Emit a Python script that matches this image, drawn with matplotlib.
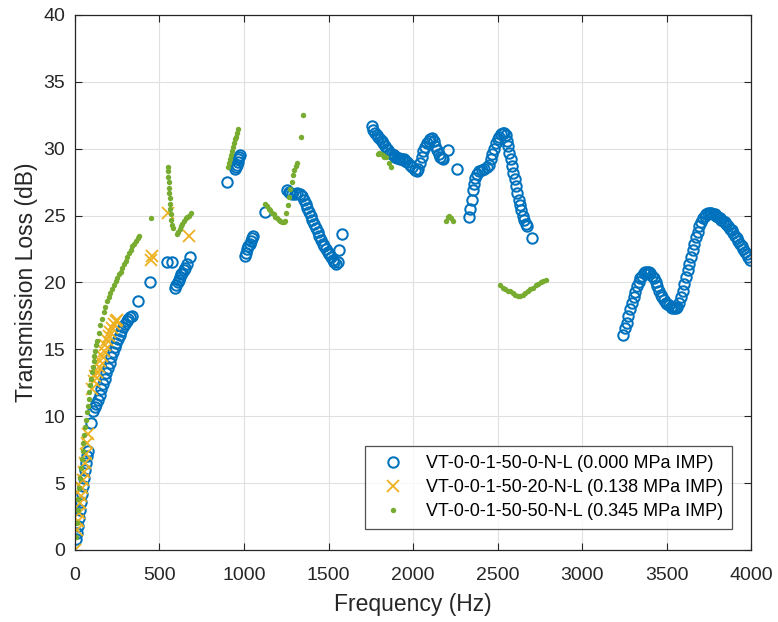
import matplotlib
matplotlib.use("Agg")
import matplotlib.pyplot as plt

# transmission loss per frequency, one set per impact pressure
# VT-0-0-1-50-0-N-L (0.000 MPa)
freq_0 = [6, 12, 18, 24, 30, 36, 42, 48, 54, 60, 66, 72, 78, 92,
          108, 116, 125, 135, 145, 155, 165, 175, 185, 195, 205, 215, 225,
          235, 245, 255, 265, 275, 285, 295, 305, 315, 325, 340, 375, 445,
          545, 572, 592, 600, 607, 614, 621, 628, 635, 643, 651, 660, 680,
          899, 947, 952, 957, 962, 967, 972, 977,
          1005, 1012, 1019, 1026, 1033, 1040, 1047, 1055,
          1124,
          1255, 1265, 1275, 1285, 1300, 1315, 1330, 1345, 1355, 1365, 1375,
          1385, 1395, 1405, 1415, 1425, 1435, 1445, 1455, 1465, 1475, 1485,
          1495, 1505, 1515, 1525, 1535, 1545, 1555, 1565, 1578,
          1757, 1765, 1775, 1785, 1795, 1805, 1815, 1825, 1835, 1845, 1855,
          1865, 1875, 1885, 1895, 1905, 1915, 1925, 1935, 1945, 1955, 1965,
          1980, 1995, 2010, 2022, 2032, 2042, 2052, 2062, 2072, 2082, 2092,
          2102, 2112, 2122, 2132, 2142, 2152, 2162, 2172, 2180, 2207, 2258,
          2333, 2340, 2347, 2354, 2361, 2368, 2378, 2392, 2406, 2420, 2435,
          2450, 2460, 2470, 2480, 2490, 2500, 2510, 2520, 2530, 2540, 2548,
          2555, 2562, 2570, 2578, 2586, 2594, 2602, 2610, 2618, 2626, 2634,
          2642, 2650, 2658, 2666, 2674, 2704,
          3243, 3255, 3265, 3275, 3285, 3295, 3305, 3315, 3325, 3335, 3345,
          3355, 3365, 3375, 3385, 3395, 3405, 3415, 3425, 3435, 3445, 3455,
          3465, 3475, 3485, 3495, 3505, 3515, 3525, 3535, 3545, 3555, 3565,
          3575, 3585, 3595, 3605, 3615, 3625, 3635, 3645, 3655, 3665, 3675,
          3685, 3695, 3705, 3715, 3725, 3735, 3745, 3755, 3765, 3775, 3785,
          3795, 3805, 3815, 3825, 3835, 3845, 3855, 3865, 3875, 3885, 3895,
          3905, 3915, 3925, 3935, 3945, 3955, 3965, 3975, 3985, 3995]
tl_0 = [0.8, 1.3, 1.8, 2.4, 3.0, 3.6, 4.2, 4.8, 5.4, 6.0, 6.5, 7.0, 7.4, 9.5,
        10.4, 10.7, 10.9, 11.2, 11.6, 12.0, 12.4, 12.8, 13.2, 13.6, 14.0,
        14.4, 14.8, 15.2, 15.5, 15.8, 16.1, 16.4, 16.7, 16.9, 17.1, 17.3,
        17.4, 17.5, 18.6, 20.0,
        21.5, 21.5, 19.6, 19.8, 20.0, 20.2, 20.4, 20.6, 20.7, 20.9, 21.1, 21.4,
        21.9,
        27.5, 28.5, 28.6, 28.8, 29.0, 29.2, 29.4, 29.5,
        22.0, 22.2, 22.5, 22.7, 22.9, 23.1, 23.3, 23.5,
        25.3,
        26.9, 26.8, 26.7, 26.6, 26.6, 26.7, 26.6, 26.5, 26.2, 25.9, 25.6,
        25.3, 25.0, 24.7, 24.4, 24.1, 23.8, 23.5, 23.2, 22.9, 22.7, 22.5,
        22.3, 22.1, 21.9, 21.7, 21.5, 21.4, 21.5, 22.4, 23.6,
        31.7, 31.4, 31.2, 31.0, 30.9, 30.7, 30.6, 30.4, 30.2, 30.0, 29.9,
        29.7, 29.6, 29.5, 29.4, 29.3, 29.3, 29.2, 29.2, 29.2, 29.1, 29.0,
        28.8, 28.6, 28.4, 28.3, 28.5, 28.9, 29.4, 29.8, 30.1, 30.4, 30.6,
        30.7, 30.8, 30.6, 30.2, 29.9, 29.6, 29.4, 29.3, 29.2, 29.9, 28.5,
        24.9, 25.5, 26.2, 26.9, 27.4, 27.8, 28.1, 28.3, 28.4, 28.5, 28.6,
        28.8, 29.2, 29.6, 30.0, 30.4, 30.7, 30.9, 31.1, 31.2, 31.2, 31.0,
        30.6, 30.2, 29.7, 29.2, 28.7, 28.2, 27.7, 27.2, 26.7, 26.2, 25.8,
        25.4, 25.0, 24.7, 24.4, 24.2, 23.3,
        16.1, 16.6, 17.0, 17.5, 18.0, 18.5, 18.9, 19.3, 19.7, 20.0, 20.3,
        20.5, 20.7, 20.8, 20.8, 20.8, 20.7, 20.5, 20.3, 20.0, 19.7, 19.4,
        19.1, 18.9, 18.7, 18.5, 18.4, 18.3, 18.2, 18.1, 18.1, 18.1, 18.2,
        18.5, 18.9, 19.4, 19.9, 20.4, 20.9, 21.4, 21.9, 22.4, 22.9, 23.4,
        23.8, 24.2, 24.5, 24.8, 25.0, 25.1, 25.2, 25.2, 25.2, 25.1, 25.1,
        25.0, 24.9, 24.8, 24.7, 24.6, 24.5, 24.4, 24.2, 24.0, 23.9, 23.7,
        23.5, 23.3, 23.1, 22.9, 22.7, 22.5, 22.3, 22.1, 21.9, 21.7]

# VT-0-0-1-50-20-N-L (0.138 MPa)
freq_20 = [2, 10, 16, 22, 28, 34, 40, 46, 52, 58, 64, 70, 79,
           100, 110, 120, 130, 140, 150, 160, 170, 180, 190, 200, 210, 220,
           230, 240, 250, 452, 458, 548, 676]
tl_20 = [0.0, 1.5, 2.2, 2.8, 3.5, 4.0, 4.6, 5.2, 5.8, 6.5, 7.2, 8.0, 8.7,
         12.0, 12.6, 13.0, 13.3, 13.7, 14.1, 14.5, 14.9, 15.3, 15.7, 16.0,
         16.3, 16.6, 16.9, 17.1, 17.2, 21.7, 22.0, 25.2, 23.5]

# VT-0-0-1-50-50-N-L (0.345 MPa)
freq_50 = [5, 10, 15, 20, 25, 30, 35, 40, 45, 50, 55, 60, 65, 70, 75, 80,
           85, 90, 95, 100, 105, 110, 115, 120, 125, 130, 140, 150, 160, 170,
           180, 190, 200, 210, 220, 230, 240, 250, 260, 270, 280, 290, 300,
           310, 320, 330, 340, 350, 360, 370, 380, 450,
           548, 550, 552, 554, 556, 558, 560, 562, 565, 568, 571, 575, 580,
           603, 612, 620, 628, 636, 645, 655, 665, 676, 686,
           904, 910, 916, 922, 928, 934, 940, 946, 952, 958, 964,
           1124, 1135, 1145, 1155, 1165, 1175, 1185, 1195, 1205, 1215, 1225,
           1235, 1242, 1250, 1258, 1266, 1274, 1282, 1290, 1298, 1306, 1312,
           1337, 1347,
           1790, 1800, 1810, 1820, 1830, 1840, 1860, 1870,
           2195, 2205, 2215, 2225, 2235,
           2515, 2530, 2545, 2560, 2575, 2590, 2605, 2620, 2635, 2650, 2665,
           2680, 2695, 2710, 2725, 2740, 2755, 2770, 2785]
tl_50 = [1.0, 2.0, 3.0, 3.8, 4.6, 5.4, 6.1, 6.8, 7.4, 8.0, 8.6, 9.2, 9.7,
         10.3, 10.8, 11.3, 11.8, 12.3, 12.8, 13.3, 13.7, 14.1, 14.5, 14.9,
         15.3, 15.6, 16.2, 16.8, 17.3, 17.8, 18.2, 18.6, 18.9, 19.2, 19.5,
         19.8, 20.1, 20.3, 20.6, 20.8, 21.1, 21.4, 21.6, 21.9, 22.2, 22.4,
         22.7, 22.9, 23.1, 23.3, 23.5, 24.8,
         28.6, 28.3, 27.9, 27.5, 27.1, 26.7, 26.3, 25.9, 25.5, 25.1, 24.7,
         24.3, 24.1,
         23.6, 23.8, 24.0, 24.2, 24.4, 24.6, 24.8, 24.9, 25.0, 25.2,
         28.6, 28.9, 29.2, 29.5, 29.8, 30.1, 30.4, 30.7, 30.9, 31.2, 31.5,
         25.9, 25.7, 25.5, 25.4, 25.2, 25.1, 24.9, 24.8, 24.7, 24.6, 24.5,
         24.5, 24.6, 25.2, 25.8, 26.4, 27.0, 27.5, 28.0, 28.4, 28.7, 28.9,
         30.9, 32.5,
         29.6, 29.7, 29.6, 29.5, 29.4, 29.4, 28.9, 28.6,
         24.6, 24.9, 25.0, 24.8, 24.6,
         19.8, 19.6, 19.5, 19.4, 19.4, 19.2, 19.1, 19.0, 19.0, 19.1, 19.2,
         19.4, 19.5, 19.6, 19.8, 19.9, 20.0, 20.1, 20.2]

labels = ["VT-0-0-1-50-0-N-L (0.000 MPa IMP)",
          "VT-0-0-1-50-20-N-L (0.138 MPa IMP)",
          "VT-0-0-1-50-50-N-L (0.345 MPa IMP)"]

plt.rcParams["font.family"] = ["Liberation Sans", "DejaVu Sans"]

fig = plt.figure(figsize=(7.78, 6.22), dpi=100)
ax = fig.add_axes([0.0964, 0.1158, 0.8689, 0.8601])

ax.plot(freq_0, tl_0, ls="none", marker="o", ms=7.5, mfc="none",
        mec="#0072BD", mew=1.45, label=labels[0])
ax.plot(freq_20, tl_20, ls="none", marker="x", ms=8, mec="#EDB120",
        mew=1.3, label=labels[1])
ax.plot(freq_50, tl_50, ls="none", marker="o", ms=3.9, mfc="#77AC30",
        mec="none", label=labels[2])

ax.set_xlim(0, 4000)
ax.set_ylim(0, 40)
ax.set_xticks(range(0, 4001, 500))
ax.set_yticks(range(0, 41, 5))
ax.grid(True, color="#e0e0e0", lw=0.8)
ax.set_axisbelow(True)
ax.tick_params(direction="in", top=True, right=True, labelsize=14,
               colors="#262626", length=5)
ax.tick_params(axis="x", pad=12)
ax.tick_params(axis="y", pad=7)
for side in ax.spines.values():
    side.set_color("#262626")
    side.set_linewidth(0.9)

ax.set_xlabel("Frequency (Hz)", fontsize=16.5, color="#262626", labelpad=7)
ax.set_ylabel("Transmission Loss (dB)", fontsize=16.5, color="#262626",
              labelpad=4)

leg = ax.legend(loc="lower right", fontsize=13, frameon=True, fancybox=False,
                edgecolor="#262626", borderpad=0.5, handlelength=2.1,
                handletextpad=0.8, labelspacing=0.38,
                bbox_to_anchor=(0.972, 0.039), borderaxespad=0)
leg.get_frame().set_linewidth(0.9)

fig.savefig("out.png", dpi=100)
